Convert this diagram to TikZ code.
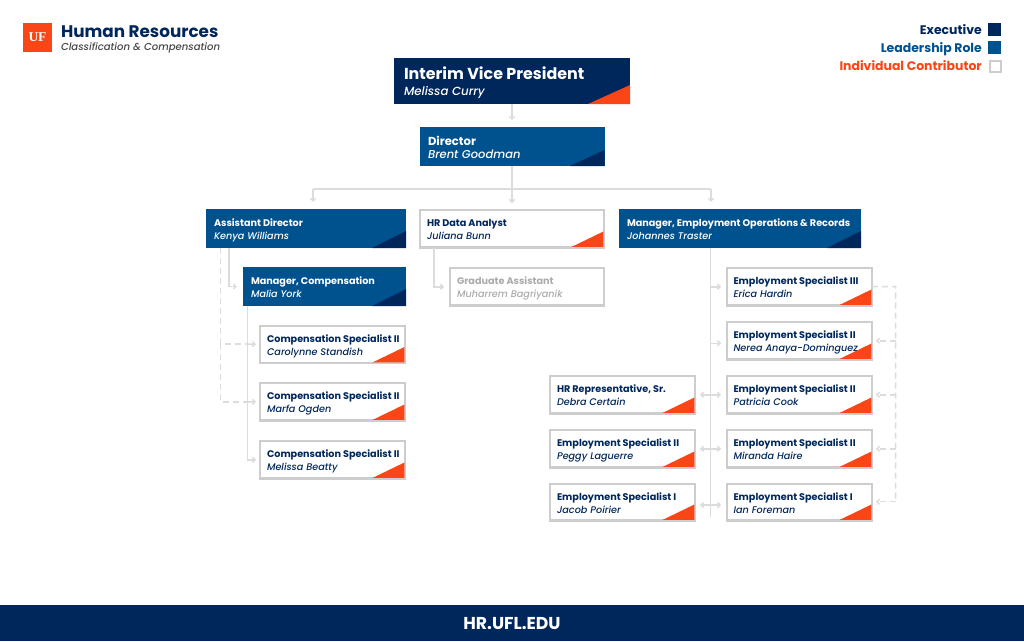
\documentclass[tikz,border=0pt]{standalone}
\usepackage{fontspec}
\setmainfont{Poppins}
\newfontfamily\medit{Poppins Medium Italic}
\newfontfamily\uffont{Liberation Serif}
\usetikzlibrary{arrows.meta,calc}
\definecolor{navy}{HTML}{00275B}
\definecolor{ufblue}{HTML}{00528F}
\definecolor{uforange}{HTML}{FA4616}
\definecolor{edge}{HTML}{CDCDCD}
\definecolor{wire}{HTML}{DCDCDC}
\definecolor{mute}{HTML}{ABABAB}
\tikzset{
  x=1pt,y=-1pt,
  txt/.style={inner sep=0pt,outer sep=0pt,anchor=base west},
  vpbox/.style={fill=navy},
  dirbox/.style={fill=ufblue},
  leadbox/.style={fill=ufblue},
  icbox/.style={fill=white,draw=edge,line width=2.2pt},
  gabox/.style={fill=white,draw=edge,line width=2.2pt},
  vptri/.style={fill=uforange},
  dirtri/.style={fill=navy},
  leadtri/.style={fill=navy},
  ictri/.style={fill=uforange},
  gatri/.style={fill=none},
  vptitle/.style={txt,text=white,font=\fontsize{15.9}{18}\selectfont\bfseries},
  vpname/.style={txt,text=white,font=\fontsize{11.8}{14}\selectfont\medit},
  dirtitle/.style={txt,text=white,font=\fontsize{11.6}{13}\selectfont\bfseries},
  dirname/.style={txt,text=white,font=\fontsize{11.5}{13}\selectfont\medit},
  leadtitle/.style={txt,text=white,font=\fontsize{9.65}{11}\selectfont\bfseries},
  leadname/.style={txt,text=white,font=\fontsize{9.65}{11}\selectfont\medit},
  ictitle/.style={txt,text=navy,font=\fontsize{9.65}{11}\selectfont\bfseries},
  icname/.style={txt,text=navy,font=\fontsize{9.65}{11}\selectfont\medit},
  gatitle/.style={txt,text=mute,font=\fontsize{9.65}{11}\selectfont\bfseries},
  ganame/.style={txt,text=mute,font=\fontsize{9.65}{11}\selectfont\medit},
  wireline/.style={draw=wire,line width=1.5pt},
  conn/.style={wireline,-{Straight Barb[length=2.6pt,width=5pt]}},
  both/.style={wireline,{Straight Barb[length=2.6pt,width=5pt]}-{Straight Barb[length=2.6pt,width=5pt]}},
  dashline/.style={wireline,dash pattern=on 6pt off 4pt},
  legendtxt/.style={inner sep=0pt,anchor=base east,font=\fontsize{12.45}{14}\selectfont\bfseries},
  legendkey/.style={inner sep=0pt,minimum width=13pt,minimum height=13pt,anchor=north west},
}
% pad, first baseline, second baseline, triangle width, triangle height
\newcommand{\boxmetrics}[5]{\def\bpad{#1}\def\bone{#2}\def\btwo{#3}\def\triw{#4}\def\trih{#5}}
% id, x0, y0, x1, y1, role, border inset, title, person
\newcommand{\orgbox}[9]{%
  \pgfmathsetmacro{\cx}{(#2+#4)/2}\pgfmathsetmacro{\cy}{(#3+#5)/2}%
  \pgfmathsetmacro{\bw}{#4-#2-2*#7}\pgfmathsetmacro{\bh}{#5-#3-2*#7}%
  \node[#6box,inner sep=0pt,outer sep=0pt,minimum width=\bw pt,minimum height=\bh pt] (#1) at (\cx,\cy) {};
  \pgfmathsetmacro{\ex}{#4-1.4*#7}\pgfmathsetmacro{\ey}{#5-1.4*#7}%
  \fill[#6tri] (\ex-\triw,\ey) -- (\ex,\ey) -- (\ex,\ey-\trih) -- cycle;
  \node[#6title] (#1t) at (#2+\bpad,#3+\bone) {#8};
  \node[#6name] (#1n) at (#2+\bpad,#3+\btwo) {#9};
}
\begin{document}
\begin{tikzpicture}
\useasboundingbox (0,0) rectangle (1024,641);
\fill[white] (0,0) rectangle (1024,641);

% header
\node[fill=uforange,inner sep=0pt,minimum width=29pt,minimum height=29pt,text=white,font=\uffont\fontsize{13.5}{14}\selectfont\bfseries] (logo) at (37.5,37.5) {UF};
\node[txt,text=navy,font=\fontsize{16.8}{18}\selectfont\bfseries] (hr) at (61,37.5) {Human Resources};
\node[txt,text=black!72,font=\fontsize{10.1}{12}\selectfont\medit] (cc) at (61,50) {Classification \& Compensation};

% legend
\node[legendtxt,text=navy] (l1) at (982,34) {Executive};
\node[legendtxt,text=ufblue] (l2) at (982,52) {Leadership Role};
\node[legendtxt,text=uforange] (l3) at (982,70) {Individual Contributor};
\node[legendkey,fill=navy] (k1) at (988,23) {};
\node[legendkey,fill=ufblue] (k2) at (988,41) {};
\node[legendkey,fill=white,draw=edge,line width=2pt,minimum width=11pt,minimum height=11pt] (k3) at (989,60) {};

% boxes
\boxmetrics{10}{21}{37}{42}{19}
\orgbox{vp}{394}{58}{630}{104}{vp}{0}{Interim Vice President}{Melissa Curry}
\boxmetrics{8.5}{18}{31}{34.5}{16}
\orgbox{dir}{419.5}{127}{604.5}{166}{dir}{0}{Director}{Brent Goodman}
\boxmetrics{8}{17.5}{30.5}{34}{17}
\orgbox{ad}{206}{209}{406}{248}{lead}{0}{Assistant Director}{Kenya Williams}
\orgbox{mc}{243}{267}{406}{306}{lead}{0}{Manager, Compensation}{Malia York}
\orgbox{me}{619}{209}{861}{248}{lead}{0}{Manager, Employment Operations \& Records}{Johannes Traster}
\boxmetrics{8}{17.5}{30.5}{32}{15.5}
\orgbox{da}{419}{209}{605}{248.5}{ic}{1.1}{HR Data Analyst}{Juliana Bunn}
\orgbox{ga}{449}{267}{605}{306.5}{ga}{1.1}{Graduate Assistant}{Muharrem Bagriyanik}
\orgbox{csa}{259}{324.5}{406}{364}{ic}{1.1}{Compensation Specialist II}{Carolynne Standish}
\orgbox{csb}{259}{382}{406}{421.5}{ic}{1.1}{Compensation Specialist II}{Marfa Ogden}
\orgbox{csc}{259}{440}{406}{479.5}{ic}{1.1}{Compensation Specialist II}{Melissa Beatty}
\orgbox{ea}{725.5}{267}{873}{306.5}{ic}{1.1}{Employment Specialist III}{Erica Hardin}
\orgbox{eb}{725.5}{321}{873}{360.5}{ic}{1.1}{Employment Specialist II}{Nerea Anaya-Dominguez}
\orgbox{ec}{725.5}{375}{873}{414.5}{ic}{1.1}{Employment Specialist II}{Patricia Cook}
\orgbox{ed}{725.5}{429}{873}{468.5}{ic}{1.1}{Employment Specialist II}{Miranda Haire}
\orgbox{ee}{725.5}{482.5}{873}{521.5}{ic}{1.1}{Employment Specialist I}{Ian Foreman}
\orgbox{la}{549}{375}{696}{414.5}{ic}{1.1}{HR Representative, Sr.}{Debra Certain}
\orgbox{lb}{549}{429}{696}{468.5}{ic}{1.1}{Employment Specialist II}{Peggy Laguerre}
\orgbox{lc}{549}{482.5}{696}{521.5}{ic}{1.1}{Employment Specialist I}{Jacob Poirier}

% connectors
\coordinate (bus) at (512,189);
\coordinate (busl) at (313,189);
\coordinate (busr) at (711,189);
\coordinate (adtop) at (313,209);
\coordinate (metop) at (711,209);
\draw[conn,shorten >=7pt] (vp.south) -- (dir.north);
\draw[wireline] (dir.south) -- (bus);
\draw[wireline] (busl) -- (busr);
\draw[conn,shorten >=7pt] (bus) -- (da.north);
\draw[conn,shorten >=7pt] (busl) -- (adtop);
\draw[conn,shorten >=7pt] (busr) -- (metop);

% assistant director side
\coordinate (adsolid) at (229,248);
\coordinate (addash) at (220.7,248);
\coordinate (mcs) at (247.5,306);
\coordinate (sa) at (247.5,344);
\coordinate (sb) at (247.5,402);
\draw[conn,shorten >=6pt] (adsolid) |- (mc.west);
\draw[wireline] (mcs) -- (sb);
\draw[conn,shorten >=4pt] (sa) -- (csa.west);
\draw[conn,shorten >=4pt] (sb) -- (csb.west);
\draw[conn,shorten >=4pt] (mcs) |- (csc.west);
\draw[dashline] (addash) |- (sa);
\draw[dashline] (addash |- sa) |- (sb);

% data analyst
\coordinate (das) at (434,248);
\draw[conn,shorten >=6pt] (das) |- (ga.west);

% employment operations
\coordinate (mes) at (710.5,248);
\coordinate (meend) at (710.5,517);
\draw[wireline] (mes) -- (meend);
\draw[conn,shorten >=5.5pt] (mes |- ea.west) -- (ea.west);
\draw[conn,shorten >=5.5pt] ($(mes |- eb.west)+(0,2.5)$) -- ($(eb.west)+(0,2.5)$);
\draw[both,shorten >=5.5pt,shorten <=5pt] (la.east) -- (ec.west);
\draw[both,shorten >=5.5pt,shorten <=5pt] (lb.east) -- (ed.west);
\draw[both,shorten >=5.5pt,shorten <=5pt] ($(lc.east)+(0,3)$) -- ($(ee.west)+(0,3)$);

% dashed peer line
\coordinate (pk) at (895.7,286.5);
\coordinate (pe) at (895.7,501.7);
\draw[dashline] (ea.east) -- (pk) -- (pe);
\draw[dashline,-{Straight Barb[length=2.6pt,width=5pt]},shorten >=4pt] (pk |- eb.east) -- (eb.east);
\draw[dashline,-{Straight Barb[length=2.6pt,width=5pt]},shorten >=4pt] (pk |- ec.east) -- (ec.east);
\draw[dashline,-{Straight Barb[length=2.6pt,width=5pt]},shorten >=4pt] (pk |- ed.east) -- (ed.east);
\draw[dashline,-{Straight Barb[length=2.6pt,width=5pt]},shorten >=4pt] (pe) -- (pe -| ee.east);

% footer
\node[fill=navy,inner sep=0pt,minimum width=1024pt,minimum height=36pt,anchor=north west] (foot) at (0,605) {};
\node[text=white,inner sep=0pt,font=\fontsize{17.2}{19}\selectfont\bfseries] (url) at (512,623.5) {HR.UFL.EDU};
\end{tikzpicture}
\end{document}
